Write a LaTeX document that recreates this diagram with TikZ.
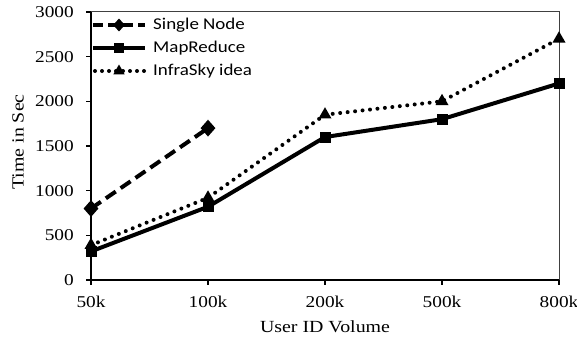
\documentclass[tikz,border=0pt]{standalone}
\usepackage{fontspec}
\usepackage{graphicx}
\setmainfont{Liberation Serif}
\newfontfamily\legfont{Carlito}
\usetikzlibrary{shapes.geometric}
\newcommand\hs[1]{\scalebox{1.17}[1]{#1}}
\newcommand\hl[1]{\scalebox{1.15}[1]{#1}}
\tikzset{
  axisline/.style={line width=2.2pt, black},
  frameline/.style={line width=1pt, black!75},
  tickline/.style={line width=1.5pt, black},
  ticklab/.style={font=\fontsize{16.5}{16.5}\selectfont, inner sep=0pt},
  axtitle/.style={font=\fontsize{17}{17}\selectfont, inner sep=0pt},
  leglab/.style={font=\legfont\fontsize{16.5}{16.5}\selectfont, inner sep=0pt, anchor=west},
  sqmark/.style={rectangle, fill=black, inner sep=0pt, minimum size=11pt},
  dmmark/.style={diamond, fill=black, inner sep=0pt, minimum width=15pt, minimum height=17pt},
  trmark/.style={regular polygon, regular polygon sides=3, fill=black, inner sep=0pt, minimum size=15pt},
  snline/.style={line width=4pt, dash pattern=on 12pt off 6pt},
  mrline/.style={line width=4pt},
  isline/.style={line width=4pt, line cap=round, dash pattern=on 0pt off 7.5pt},
}
\begin{document}
\begin{tikzpicture}[x=1pt, y=-1pt]
\useasboundingbox (0,0) rectangle (577,345);
% frame
\coordinate (o) at (91,280);
\coordinate (tl) at (91,12);
\coordinate (tr) at (559,12);
\coordinate (br) at (559,280);
\draw[frameline] (tl) -- (tr) -- (br);
\draw[axisline] (tl) -- (o) -- (br);
% y ticks
\foreach \v [count=\i] in {0,500,1000,1500,2000,2500,3000}{
  \coordinate (yt\i) at (91,{280-\v*0.089333});
  \draw[tickline] (yt\i) -- ++(-5,0);
  \node[ticklab, anchor=east] (yl\i) at ([xshift=-17pt]yt\i) {\hs{\v}};
}
% x ticks
\foreach \lab/\x [count=\i] in {50k/91,100k/208,200k/325,500k/442,800k/559}{
  \coordinate (xt\i) at (\x,280);
  \draw[tickline] (xt\i) -- ++(0,5);
  \node[ticklab] (xl\i) at (\x,302) {\hs{\lab}};
}
\node[axtitle] (xtitle) at (325,327) {\hs{User ID Volume}};
\node[axtitle, rotate=90] (ytitle) at (18,142) {\hs{Time in Sec}};
% data markers
\foreach \x/\v [count=\i] in {91/390,208/920,325/1850,442/2000,559/2700}
  \coordinate (is\i) at (\x,{280-\v*0.089333});
\foreach \x/\v [count=\i] in {91/320,208/820,325/1600,442/1800,559/2200}
  \coordinate (mr\i) at (\x,{280-\v*0.089333});
\foreach \x/\v [count=\i] in {91/800,208/1700}
  \coordinate (sn\i) at (\x,{280-\v*0.089333});
\draw[isline] (is1) -- (is2) -- (is3) -- (is4) -- (is5);
\draw[mrline] (mr1) -- (mr2) -- (mr3) -- (mr4) -- (mr5);
\draw[snline] (sn1) -- (sn2);
\foreach \i in {1,...,5} \node[trmark] (IS\i) at (is\i) {};
\foreach \i in {1,...,5} \node[sqmark] (MR\i) at (mr\i) {};
\foreach \i in {1,2} \node[dmmark] (SN\i) at (sn\i) {};
% legend
\coordinate (la1) at (93,25); \coordinate (lb1) at (145,25);
\coordinate (la2) at (93,48); \coordinate (lb2) at (145,48);
\coordinate (la3) at (95,71); \coordinate (lb3) at (145,71);
\draw[line width=3.5pt, dash pattern=on 10pt off 5pt] (la1) -- (lb1);
\draw[mrline] (la2) -- (lb2);
\draw[isline, dash pattern=on 0pt off 7pt] (la3) -- (lb3);
\node[dmmark, minimum width=12pt, minimum height=13pt] (lm1) at (119,25) {};
\node[sqmark, minimum size=10pt] (lm2) at (119,48) {};
\node[trmark, minimum size=13pt] (lm3) at (119,71) {};
\node[leglab] (lt1) at (153,25) {\hl{Single Node}};
\node[leglab] (lt2) at (153,48) {\hl{MapReduce}};
\node[leglab] (lt3) at (153,71) {\hl{InfraSky idea}};
\end{tikzpicture}
\end{document}
